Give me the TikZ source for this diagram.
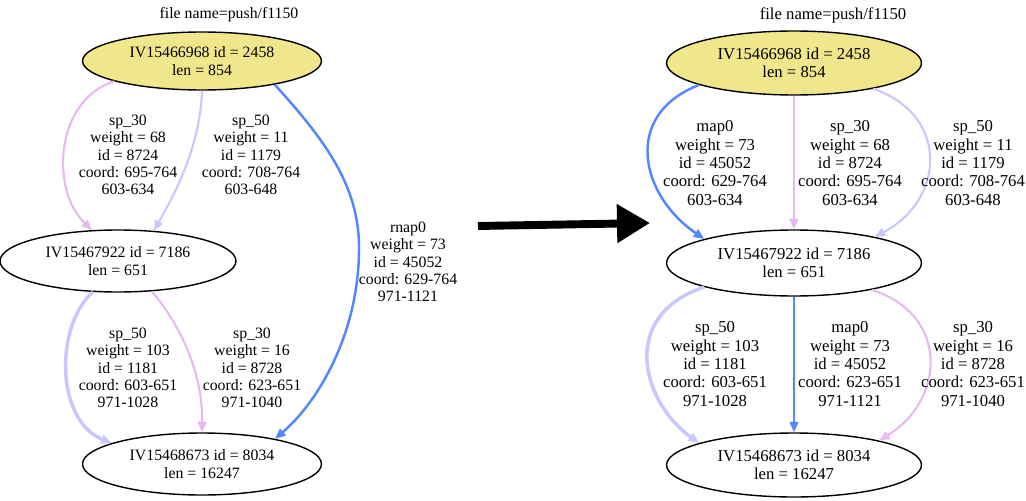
\documentclass[tikz,border=0pt]{standalone}
\usepackage{fontspec}
\setmainfont{Liberation Serif}
\usepackage{xcolor}
\usetikzlibrary{arrows.meta,shapes.geometric}

\definecolor{khakiN}{HTML}{F0E68C}
\definecolor{pinkE}{HTML}{E8B8F0}
\definecolor{lavE}{HTML}{C8C8FF}
\definecolor{blueE}{HTML}{5387FF}

\begin{document}
\begin{tikzpicture}[x=0.02cm, y=-0.02cm,
		fontL/.style={font=\fontsize{9}{9.8}\selectfont},
		fontR/.style={font=\fontsize{9.5}{10.4}\selectfont},
		vert/.style={ellipse, draw, line width=0.8pt, inner sep=0pt, align=center},
		lab/.style={align=center},
		edge/.style={-{Triangle[length=6pt,width=5pt]}},
		sp30/.style={edge, draw=pinkE, line width=1.2pt},
		sp50/.style={edge, draw=lavE, line width=1.2pt},
		sp50w/.style={edge, draw=lavE, line width=2pt},
		rnap/.style={edge, draw=blueE, line width=1.4pt}]
			\useasboundingbox (0,0) rectangle (1026,500);

			\begin{scope}[fontL]
			\node (lTitle) at (229,15) [lab] {file name=push/f1150};
			\node (lTop) at (202,61) [vert, fill=khakiN, minimum width=4.78cm, minimum height=1.16cm] {IV15466968 id = 2458\\len = 854};
			\node (lMid) at (118,261) [vert, minimum width=4.72cm, minimum height=1.24cm] {IV15467922 id = 7186\\len = 651};
			\node (lBot) at (202,464) [vert, minimum width=4.78cm, minimum height=1.24cm] {IV15468673 id = 8034\\len = 16247};

			\draw [sp30] (lTop.193) .. controls (55,100) and (50,190) .. (lMid.130);
			\draw [sp50] (lTop.270) .. controls (200,150) and (172,198) .. (lMid.40);
			\draw [rnap] (lTop.-18) .. controls (325,140) and (358,185) .. (359,245) .. controls (360,330) and (320,400) .. (lBot.19);
			\draw [sp50w] (lMid.231) .. controls (55,325) and (55,420) .. (lBot.167);
			\draw [sp30] (lMid.-42) .. controls (185,330) and (203,380) .. (lBot.90);

			\node (lLabA) at (128,155) [lab] {sp\_30\\weight = 68\\id = 8724\\coord: 695-764\\603-634};
			\node (lLabB) at (251,155) [lab] {sp\_50\\weight = 11\\id = 1179\\coord: 708-764\\603-648};
			\node (lLabC) at (408,262) [lab] {rnap0\\weight = 73\\id = 45052\\coord: 629-764\\971-1121};
			\node (lLabD) at (128,368) [lab] {sp\_50\\weight = 103\\id = 1181\\coord: 603-651\\971-1028};
			\node (lLabE) at (252,368) [lab] {sp\_30\\weight = 16\\id = 8728\\coord: 623-651\\971-1040};
			\end{scope}

			\coordinate (arrowA) at (478,226);
			\coordinate (arrowB) at (650,223);
			\draw [-{Triangle[length=0.66cm,width=0.74cm]}, line width=4.5pt] (arrowA) -- (arrowB);

			\begin{scope}[fontR]
			\node (rTitle) at (833,15) [lab] {file name=push/f1150};
			\node (rTop) at (794,63) [vert, fill=khakiN, minimum width=5.1cm, minimum height=1.28cm] {IV15466968 id = 2458\\len = 854};
			\node (rMid) at (794,263) [vert, minimum width=5.1cm, minimum height=1.32cm] {IV15467922 id = 7186\\len = 651};
			\node (rBot) at (794,465) [vert, minimum width=5.1cm, minimum height=1.28cm] {IV15468673 id = 8034\\len = 16247};

			\draw [rnap] (rTop.193) .. controls (622,115) and (640,195) .. (rMid.165);
			\draw [sp30] (rTop.270) -- (rMid.90);
			\draw [sp50] (rTop.-18) .. controls (950,115) and (945,200) .. (rMid.18);
			\draw [sp50w] (rMid.195) .. controls (620,315) and (640,400) .. (rBot.167);
			\draw [rnap, line width=1.2pt] (rMid.270) -- (rBot.90);
			\draw [sp30] (rMid.-19) .. controls (950,315) and (945,400) .. (rBot.16);

			\node (rLabA) at (715,163) [lab] {map0\\weight = 73\\id = 45052\\coord: 629-764\\603-634};
			\node (rLabB) at (850,163) [lab] {sp\_30\\weight = 68\\id = 8724\\coord: 695-764\\603-634};
			\node (rLabC) at (973,163) [lab] {sp\_50\\weight = 11\\id = 1179\\coord: 708-764\\603-648};
			\node (rLabD) at (715,364) [lab] {sp\_50\\weight = 103\\id = 1181\\coord: 603-651\\971-1028};
			\node (rLabE) at (850,364) [lab] {map0\\weight = 73\\id = 45052\\coord: 623-651\\971-1121};
			\node (rLabF) at (973,364) [lab] {sp\_30\\weight = 16\\id = 8728\\coord: 623-651\\971-1040};
			\end{scope}
		\end{tikzpicture}
\end{document}
